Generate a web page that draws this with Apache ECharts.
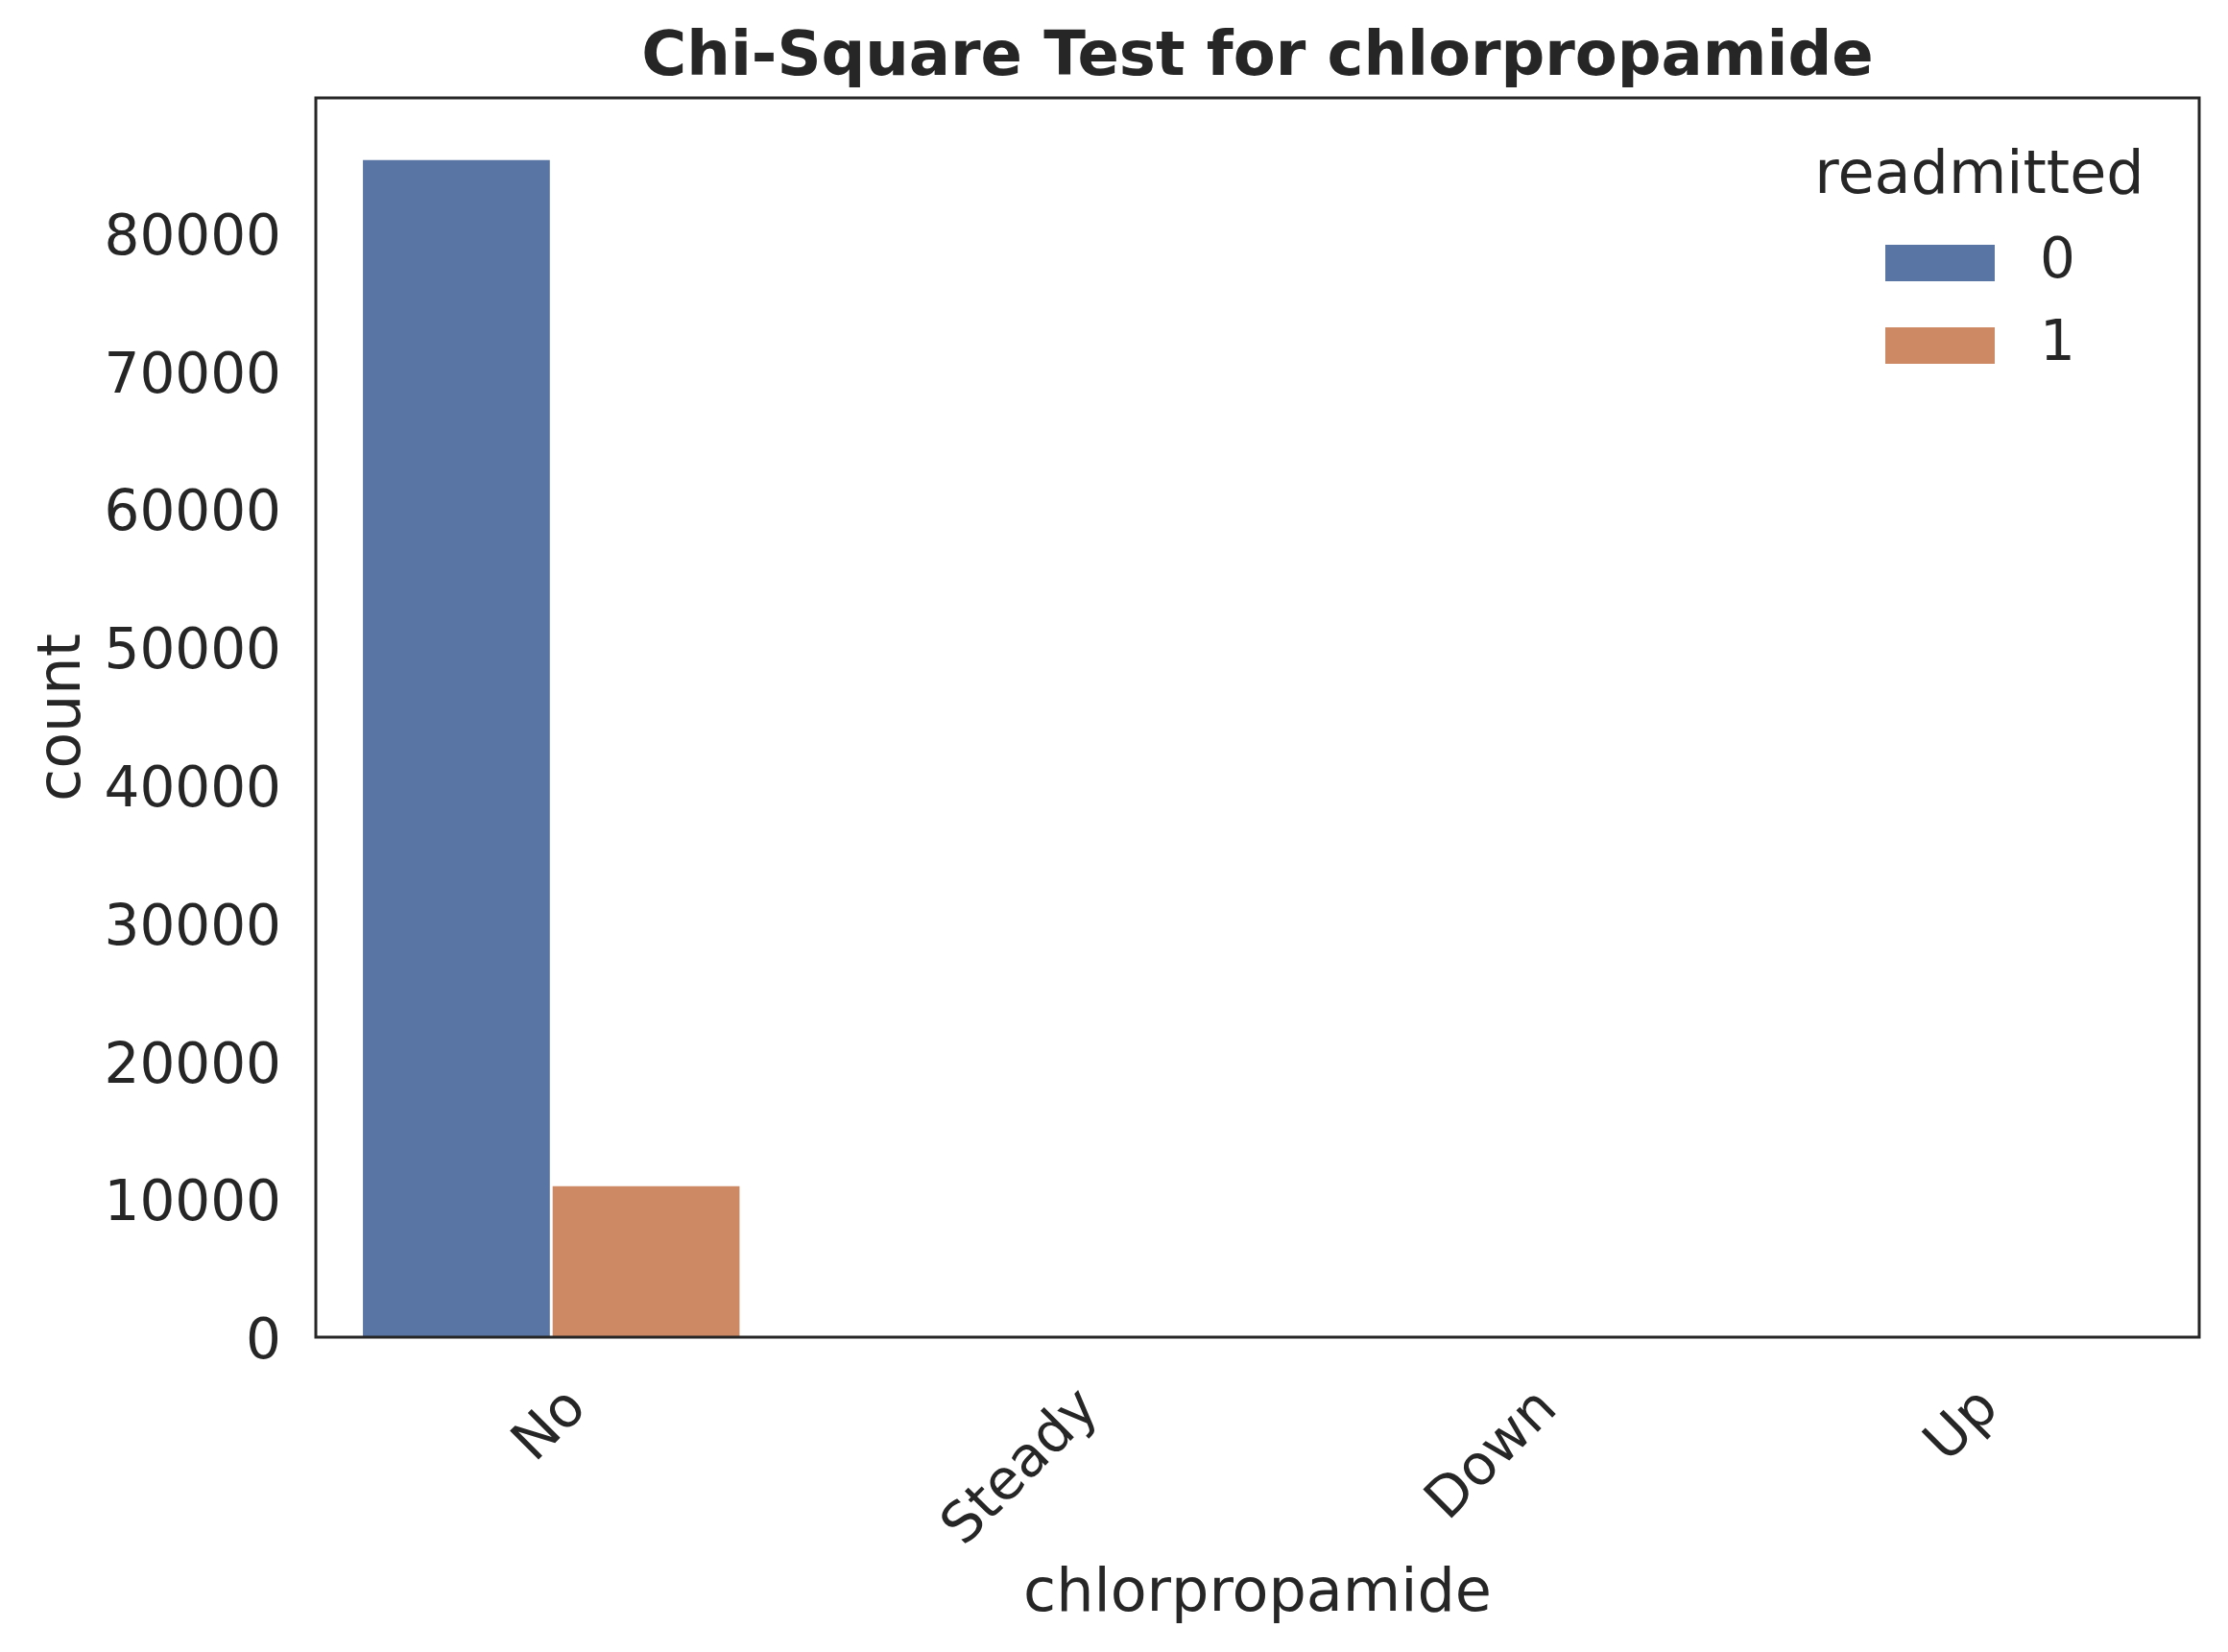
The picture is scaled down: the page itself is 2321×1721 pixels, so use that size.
<!DOCTYPE html>
<html><head><meta charset="utf-8">
<script src="https://cdn.jsdelivr.net/npm/echarts@6/dist/echarts.min.js"></script>
<style>html,body{margin:0;padding:0;background:#fff}#c{width:2321px;height:1721px}</style>
</head><body><div id="c"></div>
<script>
// ---- data ----
const categories = ['No', 'Steady', 'Down', 'Up'];
const seriesNames = ['0', '1'];
const readmitted0 = [85300, 70, 1, 5];
const readmitted1 = [10930, 8, 0, 1];
const yTickStep = 10000;
const titleText = 'Chi-Square Test for chlorpropamide';
const xName = 'chlorpropamide';
const yName = 'count';
const legendTitle = 'readmitted';

// ---- style ----
const FONT = '"DejaVu Sans", Verdana, sans-serif';
const TEXT = '#262626';
const COLORS = ['#5975a4', '#cc8963'];
const TICK_FS = 58, LABEL_FS = 62, TITLE_FS = 64;

const ctx = document.createElement('canvas').getContext('2d');
ctx.font = TICK_FS + 'px ' + FONT;
const xData = categories.map(c => {
  const W = ctx.measureText(c).width;
  const D = (W + TICK_FS) * Math.SQRT1_2 / 2;       // half the rotated box height
  const pr = Math.round(D * Math.SQRT2);
  const pt = Math.max(0, Math.round(D * Math.SQRT1_2 - TICK_FS / 2));
  return { value: c, textStyle: { align: 'center', verticalAlign: 'top', padding: [pt, pr, 0, 0],
    fontSize: TICK_FS, lineHeight: TICK_FS, fontFamily: FONT, color: TEXT } };
});

const chart = echarts.init(document.getElementById('c'), null, { renderer: 'canvas' });
chart.setOption({
  animation: false,
  backgroundColor: '#ffffff',
  grid: { left: 329, right: 30, top: 102, bottom: 328, show: true, borderColor: TEXT, borderWidth: 3, backgroundColor: 'transparent', z: 10 },
  graphic: [
    { type: 'text', x: 1310, y: 61, z: 100, style: { text: titleText, font: 'bold ' + TITLE_FS + 'px ' + FONT, fill: TEXT, align: 'center', verticalAlign: 'middle' } },
    { type: 'text', x: 2062, y: 185, z: 100, style: { text: legendTitle, font: LABEL_FS + 'px ' + FONT, fill: TEXT, align: 'center', verticalAlign: 'middle' } }
  ],
  legend: {
    orient: 'vertical', left: 1959, top: 240, icon: 'rect', itemWidth: 114, itemHeight: 38, itemGap: 28,
    textStyle: { fontSize: TICK_FS, lineHeight: TICK_FS, fontFamily: FONT, color: TEXT, padding: [0, 0, 0, 42] },
    data: seriesNames
  },
  xAxis: {
    type: 'category', data: xData,
    name: xName, nameLocation: 'middle', nameGap: 238,
    nameTextStyle: { fontSize: LABEL_FS, lineHeight: LABEL_FS, fontFamily: FONT, color: TEXT },
    axisLine: { show: false }, axisTick: { show: false },
    axisLabel: { interval: 0, rotate: 45, margin: 45, fontSize: TICK_FS, fontFamily: FONT, color: TEXT },
    splitLine: { show: false }
  },
  yAxis: {
    type: 'value', min: 0, max: 89800, interval: yTickStep,
    name: yName, nameLocation: 'middle', nameGap: 225,
    nameTextStyle: { fontSize: LABEL_FS, lineHeight: LABEL_FS, fontFamily: FONT, color: TEXT },
    axisLine: { show: false }, axisTick: { show: false }, splitLine: { show: false },
    axisLabel: { margin: 36, fontSize: TICK_FS, fontFamily: FONT, color: TEXT, showMaxLabel: false,
      verticalAlign: 'top', lineHeight: 14, formatter: v => String(v) }
  },
  series: [
    { name: seriesNames[0], type: 'bar', data: readmitted0, barWidth: '39.7%', barGap: '1.5%', itemStyle: { color: COLORS[0] } },
    { name: seriesNames[1], type: 'bar', data: readmitted1, barWidth: '39.7%', barGap: '1.5%', itemStyle: { color: COLORS[1] } }
  ]
});
</script></body></html>
